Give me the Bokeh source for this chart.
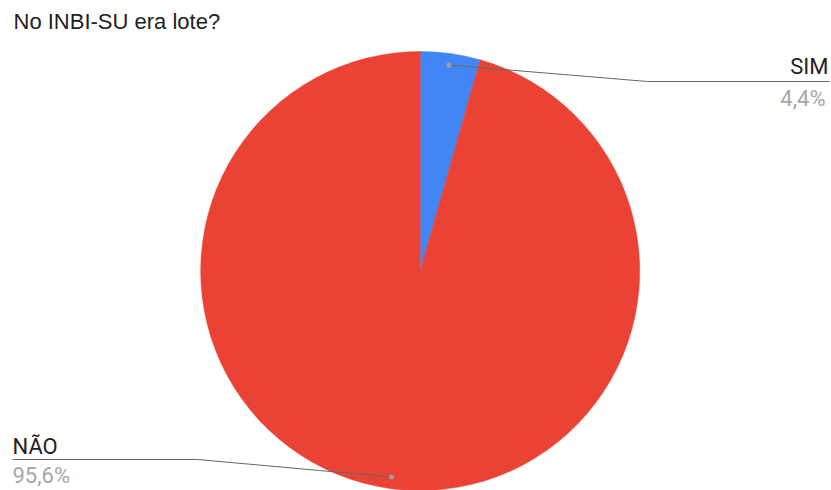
import math
from bokeh.plotting import figure
from bokeh.models import Range1d, ColumnDataSource
from bokeh.core.properties import value
from bokeh.embed import file_html
from bokeh.resources import INLINE

# ---- data ----
title_text = "No INBI-SU era lote?"
categories = ["SIM", "NÃO"]
percents = [4.4, 95.6]
colors = ["#4285F4", "#EA4335"]

# ---- layout (page pixel coordinates, y downward; plotted as -y) ----
W, H = 831, 490
OFF = 0
cx, cy, R = 419.7, 270.5, 219.5
R_DOT = 208
TY = 7  # text baseline correction

p = figure(width=W, height=H, output_backend="svg", toolbar_location=None,
           x_range=Range1d(OFF, OFF + W), y_range=Range1d(-(OFF + H), -OFF),
           min_border=0, x_axis_location=None, y_axis_location=None,
           tools="")
p.grid.visible = False
p.outline_line_color = None
p.background_fill_color = "white"
p.border_fill_color = "white"

# wedges computed from data, starting at top, clockwise
total = sum(percents)
starts, ends, mids = [], [], []
acc = 0.0
for v in percents:
    a0 = math.pi / 2 - 2 * math.pi * acc / total
    acc += v
    a1 = math.pi / 2 - 2 * math.pi * acc / total
    starts.append(a0)
    ends.append(a1)
    mids.append((a0 + a1) / 2)

src = ColumnDataSource(dict(start=starts, end=ends, color=colors, cat=categories))
p.wedge(x=cx, y=-cy, radius=R, start_angle="start", end_angle="end",
        direction="clock", fill_color="color", line_color="color", line_width=0.5,
        source=src)

# leader lines and labels
dots_x = [cx + R_DOT * math.cos(m) for m in mids]
dots_y = [-(cy - R_DOT * math.sin(m)) for m in mids]

elbows = [(647, 81, 829), (197, 459, 12)]  # elbow x, line y, end x
for i, (ex, ly, endx) in enumerate(elbows):
    p.line([dots_x[i], ex, endx], [dots_y[i], -ly, -ly], line_color="#666666", line_width=1)
p.scatter(dots_x, dots_y, size=5, fill_color="#9E9E9E", line_color=None)

fmt = [f"{v:.1f}".replace(".", ",") + "%" for v in percents]

FS = "22px"
# SIM (right aligned)
p.text(x=[828], y=[-(73 - TY)], text=[categories[0]], text_align="right", text_baseline="alphabetic",
       text_font=value("Roboto"), text_font_size=FS, text_color="#222222")
p.text(x=[825], y=[-(105 - TY)], text=[fmt[0]], text_align="right", text_baseline="alphabetic",
       text_font=value("Roboto"), text_font_size=FS, text_color="#A6A6A6")
# NÃO (left aligned)
p.text(x=[12], y=[-(453 - TY)], text=[categories[1]], text_align="left", text_baseline="alphabetic",
       text_font=value("Roboto"), text_font_size=FS, text_color="#222222")
p.text(x=[12], y=[-(482 - TY)], text=[fmt[1]], text_align="left", text_baseline="alphabetic",
       text_font=value("Roboto"), text_font_size=FS, text_color="#A6A6A6")

# title
p.text(x=[13], y=[-(28 - TY)], text=[title_text], text_align="left", text_baseline="alphabetic",
       text_font=value("Liberation Sans"), text_font_size="22px", text_color="#222222")

open("out.html", "w").write(file_html(p, INLINE))
